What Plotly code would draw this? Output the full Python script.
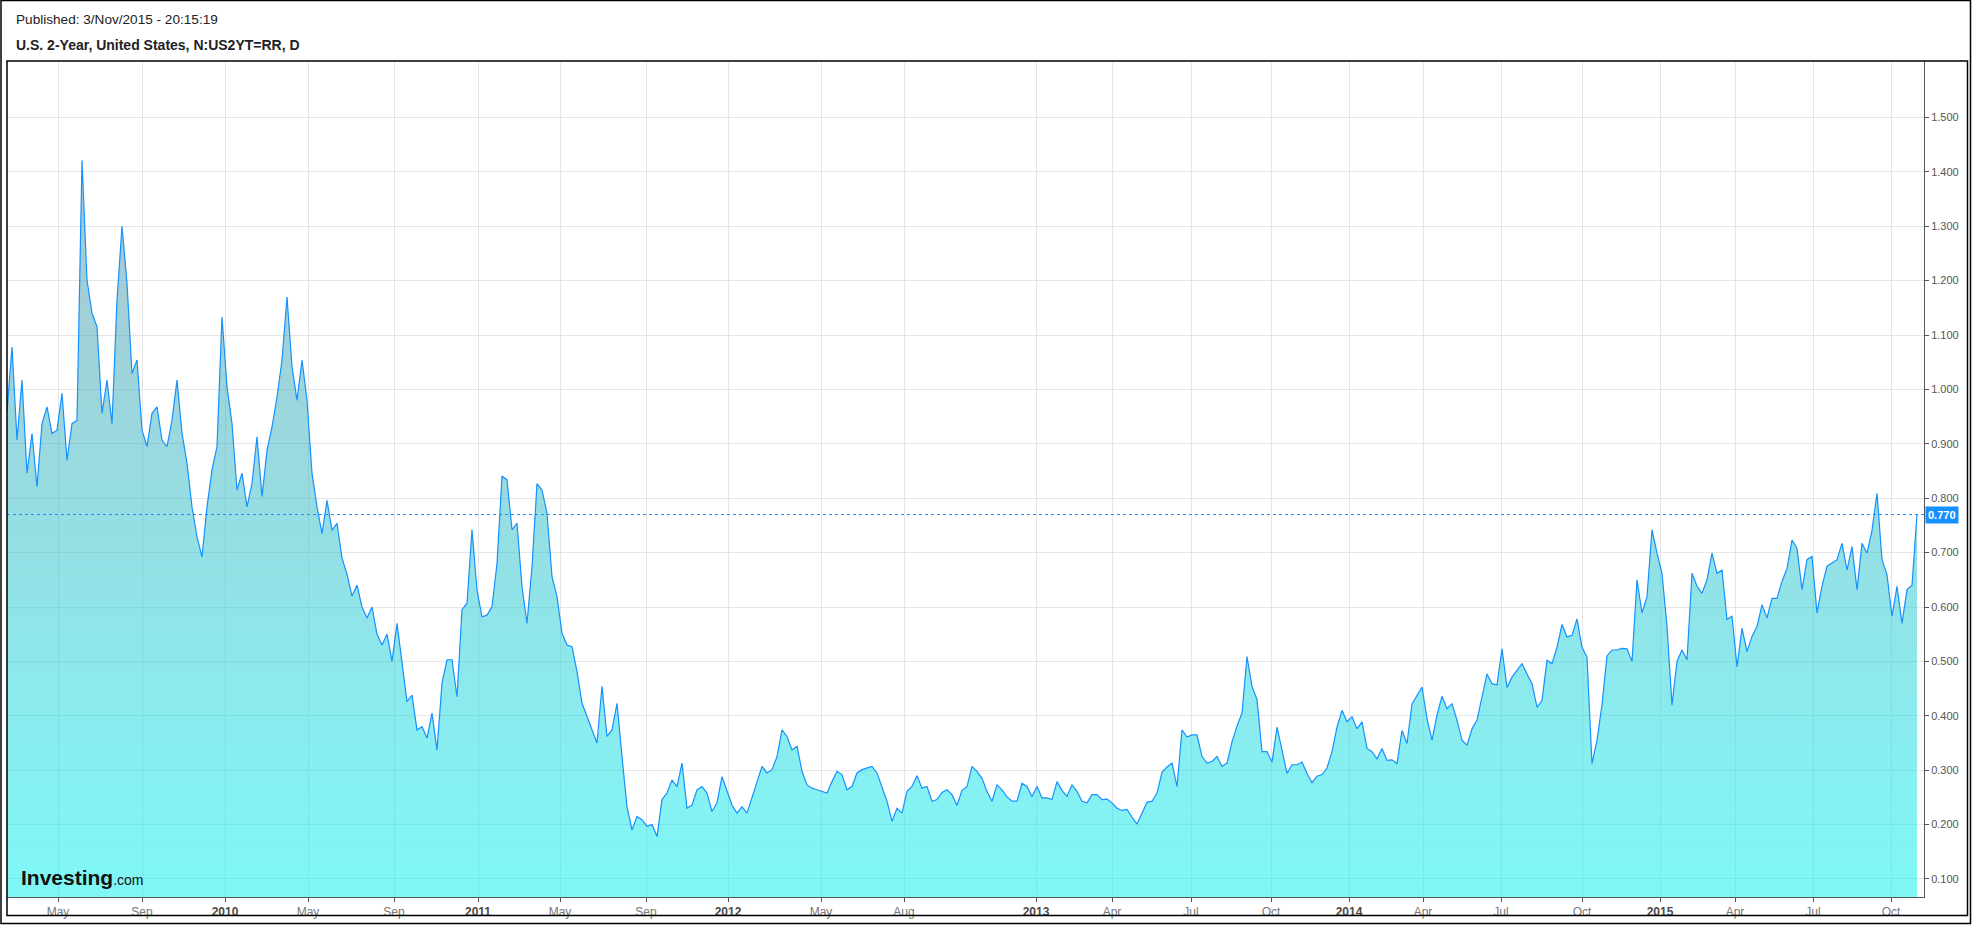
import plotly.graph_objects as go

# ---------------- data (ordinal samples) ----------------
yield_pct = [
    0.959, 1.078, 0.907, 1.017, 0.846, 0.919, 0.821, 0.937, 0.968, 0.919,
    0.925, 0.993, 0.870, 0.937, 0.943, 1.421, 1.201, 1.140, 1.115, 0.956,
    1.017, 0.937, 1.164, 1.300, 1.195, 1.029, 1.054, 0.925, 0.895, 0.956,
    0.968, 0.907, 0.895, 0.943, 1.017, 0.919, 0.864, 0.784, 0.729, 0.692,
    0.784, 0.852, 0.895, 1.133, 1.005, 0.937, 0.815, 0.846, 0.784, 0.827,
    0.913, 0.803, 0.888, 0.931, 0.986, 1.054, 1.170, 1.042, 0.980, 1.054,
    0.980, 0.846, 0.784, 0.735, 0.796, 0.741, 0.754, 0.690, 0.660, 0.620,
    0.640, 0.600, 0.580, 0.600, 0.550, 0.530, 0.550, 0.500, 0.570, 0.494,
    0.426, 0.438, 0.374, 0.380, 0.359, 0.405, 0.337, 0.460, 0.503, 0.503,
    0.435, 0.595, 0.607, 0.742, 0.631, 0.582, 0.585, 0.601, 0.680, 0.840,
    0.834, 0.742, 0.754, 0.637, 0.570, 0.674, 0.827, 0.815, 0.772, 0.656,
    0.619, 0.552, 0.530, 0.527, 0.481, 0.423, 0.399, 0.377, 0.350, 0.454,
    0.362, 0.374, 0.423, 0.325, 0.233, 0.190, 0.215, 0.209, 0.197, 0.200,
    0.178, 0.246, 0.258, 0.282, 0.270, 0.313, 0.230, 0.236, 0.264, 0.270,
    0.258, 0.224, 0.240, 0.288, 0.261, 0.236, 0.221, 0.233, 0.221, 0.249,
    0.279, 0.307, 0.295, 0.301, 0.325, 0.374, 0.362, 0.337, 0.344, 0.298,
    0.273, 0.267, 0.264, 0.261, 0.258, 0.279, 0.298, 0.292, 0.264, 0.270,
    0.295, 0.301, 0.304, 0.307, 0.295, 0.267, 0.243, 0.206, 0.230, 0.221,
    0.261, 0.270, 0.290, 0.267, 0.270, 0.243, 0.246, 0.259, 0.264, 0.255,
    0.235, 0.263, 0.270, 0.307, 0.298, 0.285, 0.261, 0.243, 0.273, 0.264,
    0.251, 0.243, 0.243, 0.276, 0.270, 0.251, 0.270, 0.249, 0.249, 0.246,
    0.279, 0.263, 0.252, 0.273, 0.261, 0.243, 0.240, 0.255, 0.255, 0.246,
    0.247, 0.240, 0.230, 0.226, 0.228, 0.214, 0.201, 0.221, 0.241, 0.243,
    0.258, 0.296, 0.306, 0.313, 0.270, 0.374, 0.361, 0.365, 0.365, 0.325,
    0.313, 0.316, 0.325, 0.307, 0.313, 0.352, 0.381, 0.405, 0.509, 0.454,
    0.430, 0.334, 0.334, 0.315, 0.379, 0.337, 0.294, 0.310, 0.310, 0.315,
    0.294, 0.277, 0.289, 0.292, 0.304, 0.334, 0.379, 0.410, 0.389, 0.398,
    0.376, 0.389, 0.340, 0.334, 0.321, 0.340, 0.318, 0.319, 0.312, 0.373,
    0.349, 0.422, 0.438, 0.453, 0.395, 0.355, 0.401, 0.436, 0.413, 0.422,
    0.392, 0.355, 0.346, 0.376, 0.392, 0.435, 0.477, 0.459, 0.457, 0.523,
    0.452, 0.471, 0.484, 0.496, 0.477, 0.459, 0.416, 0.428, 0.502, 0.496,
    0.526, 0.568, 0.545, 0.548, 0.578, 0.526, 0.508, 0.312, 0.355, 0.420,
    0.510, 0.521, 0.521, 0.524, 0.523, 0.500, 0.650, 0.589, 0.619, 0.742,
    0.699, 0.662, 0.564, 0.420, 0.500, 0.521, 0.503, 0.662, 0.638, 0.625,
    0.650, 0.699, 0.662, 0.668, 0.577, 0.583, 0.490, 0.561, 0.518, 0.546,
    0.564, 0.604, 0.580, 0.616, 0.616, 0.647, 0.671, 0.723, 0.708, 0.632,
    0.687, 0.693, 0.589, 0.638, 0.675, 0.681, 0.687, 0.717, 0.668, 0.711,
    0.632, 0.717, 0.699, 0.741, 0.809, 0.687, 0.659, 0.583, 0.638, 0.570,
    0.632, 0.640, 0.770,
]

tick_labels = ["May", "Sep", "2010", "May", "Sep", "2011", "May", "Sep",
               "2012", "May", "Aug", "2013", "Apr", "Jul", "Oct",
               "2014", "Apr", "Jul", "Oct", "2015", "Apr", "Jul", "Oct"]
# ordinal sample position of the first session of each labelled month
tick_index = [10.2, 27.0, 43.6, 60.2, 77.4, 94.2, 110.6, 127.8,
              144.2, 162.8, 179.4, 205.8, 221.0, 236.8, 252.8,
              268.4, 283.2, 298.8, 315.0, 330.6, 345.6, 361.2, 376.8]

y_ticks = [0.1, 0.2, 0.3, 0.4, 0.5, 0.6, 0.7, 0.8, 0.9, 1.0, 1.1, 1.2, 1.3, 1.4, 1.5]

title_published = "Published: 3/Nov/2015 - 20:15:19"
title_series = "U.S. 2-Year, United States, N:US2YT=RR, D"

# ---------------- layout geometry ----------------
W, H = 1972, 926
PL, PR, PT, PB = 7, 1924, 61, 897  # plot area in pixels
Y_MIN, Y_MAX = 0.0669, 1.6037
X_MAX = len(yield_pct) + 0.4


def px2x(px):
    return (px - PL) / (PR - PL)


def py2y(py):
    return (PB - py) / (PB - PT)


LINE = "#1591ff"
idx = list(range(len(yield_pct)))
last = yield_pct[-1]

ticktext = []
for t in tick_labels:
    if t.isdigit():
        ticktext.append('<span style="color:#4a4a4a"><b>%s</b></span>' % t)
    else:
        ticktext.append(t)

fig = go.Figure()
fig.add_trace(go.Scatter(
    x=idx, y=yield_pct, mode="lines",
    line=dict(color=LINE, width=1.2),
    fill="tozeroy",
    fillgradient=dict(type="vertical",
                      colorscale=[[0, "rgba(0,240,240,0.5)"],
                                  [1, "rgba(84,140,160,0.5)"]],
                      start=Y_MIN, stop=max(yield_pct)),
    hoverinfo="skip", showlegend=False,
))

shapes = [
    # dotted last-value line
    dict(type="line", xref="paper", yref="y", x0=0, x1=1, y0=last, y1=last,
         line=dict(color=LINE, width=1, dash="dot"), layer="above"),
    # inner chart frame
    dict(type="rect", xref="paper", yref="paper",
         x0=px2x(7), x1=px2x(1967.5), y0=py2y(915.5), y1=py2y(61),
         line=dict(color="#000", width=1.5), layer="above"),
    # outer border
    dict(type="rect", xref="paper", yref="paper",
         x0=px2x(1), x1=px2x(1970.5), y0=py2y(923.5), y1=py2y(0.5),
         line=dict(color="#000", width=1.5), layer="above"),
]

annotations = [
    dict(xref="paper", yref="paper", x=px2x(14), y=py2y(20), xanchor="left",
         yanchor="middle", showarrow=False, text=title_published,
         font=dict(family="Liberation Sans, Arial", size=13.6, color="#222")),
    dict(xref="paper", yref="paper", x=px2x(14), y=py2y(45), xanchor="left",
         yanchor="middle", showarrow=False, text="<b>%s</b>" % title_series,
         font=dict(family="Liberation Sans, Arial", size=14, color="#222")),
    dict(xref="paper", yref="y", x=1, y=last, xanchor="left", yanchor="middle",
         xshift=1, showarrow=False, text="<b>%.3f</b>" % last,
         bgcolor=LINE, borderpad=2,
         font=dict(family="Liberation Sans, Arial", size=11, color="#fff")),
    dict(xref="paper", yref="paper", x=px2x(19), y=py2y(877), xanchor="left",
         yanchor="middle", showarrow=False,
         text='<b>Investing</b><span style="font-size:14px">.com</span>',
         font=dict(family="Liberation Sans Narrow, Liberation Sans, Arial",
                   size=21, color="#111")),
]

fig.update_layout(
    width=W, height=H, autosize=False,
    margin=dict(l=PL, r=W - PR, t=PT, b=H - PB, pad=0),
    paper_bgcolor="#fff", plot_bgcolor="#fff",
    shapes=shapes, annotations=annotations,
    xaxis=dict(range=[0, X_MAX], tickmode="array", tickvals=tick_index,
               ticktext=ticktext, showgrid=True, gridcolor="#e6e6e6",
               gridwidth=1, zeroline=False, showline=True, linecolor="#555",
               linewidth=1, ticks="outside", ticklen=4, tickcolor="#555",
               tickfont=dict(family="Liberation Sans Narrow, Arial Narrow, Liberation Sans",
                             size=12, color="#777"),
               fixedrange=True),
    yaxis=dict(range=[Y_MIN, Y_MAX], side="right", tickmode="array",
               tickvals=y_ticks, ticktext=["%.3f" % v for v in y_ticks],
               showgrid=True, gridcolor="#e6e6e6", gridwidth=1, zeroline=False,
               showline=True, linecolor="#555", linewidth=1, ticks="outside",
               ticklen=4, tickcolor="#555",
               tickfont=dict(family="Liberation Sans, Arial", size=11, color="#555"),
               fixedrange=True),
)

fig.write_html(
    "out.html",
    config={"displayModeBar": False},
    post_script="document.body.style.margin='0';document.body.style.padding='0';"
                "document.documentElement.style.overflow='hidden';",
)
